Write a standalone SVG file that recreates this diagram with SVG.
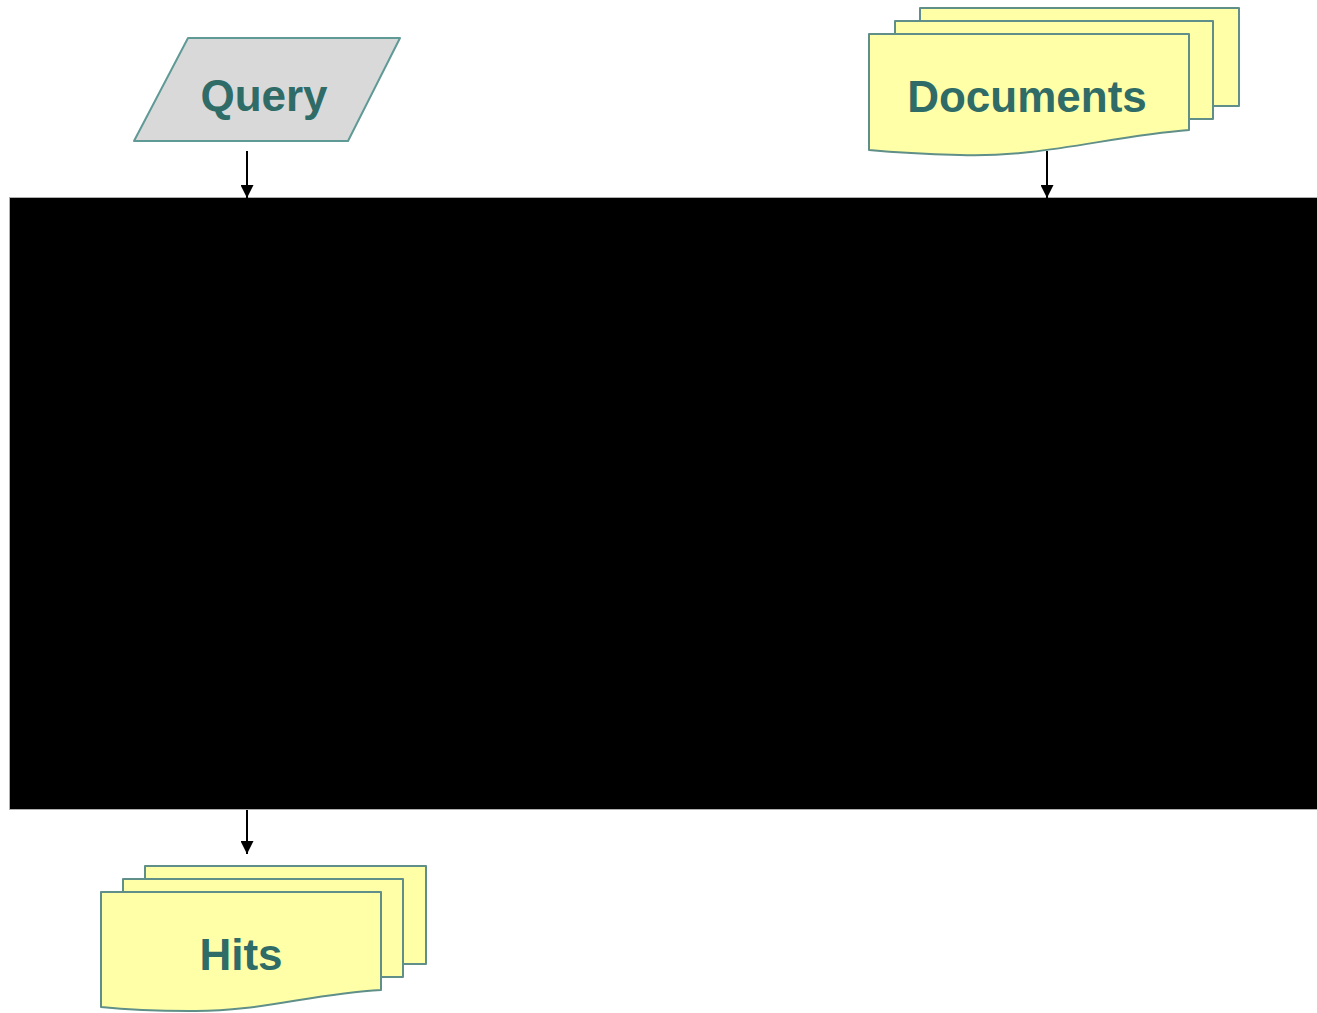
<svg xmlns="http://www.w3.org/2000/svg" width="1317" height="1013" viewBox="0 0 1317 1013">
  <defs>
    <style>
      .doc { fill: #ffffa8; stroke: #5f8f88; stroke-width: 2; stroke-linejoin: round; }
      .io { fill: #d9d9d9; stroke: #5f9a96; stroke-width: 2; stroke-linejoin: round; }
      .label { font-family: "Liberation Sans", Arial, sans-serif; font-weight: bold; font-size: 44px; fill: #2f6b67; text-anchor: middle; }
      .edge { stroke: #000; stroke-width: 2; fill: none; marker-end: url(#arrow); }
    </style>
    <marker id="arrow" viewBox="0 0 10 10" refX="10" refY="5" markerWidth="13" markerHeight="13" markerUnits="userSpaceOnUse" orient="auto">
      <path d="M0,0 L10,5 L0,10 z" fill="#000"/>
    </marker>
  </defs>

  <rect width="1317" height="1013" fill="#ffffff"/>

  <!-- masked processing block -->
  <g id="process">
    <rect x="9.5" y="197.5" width="1310" height="612" fill="#000" stroke="#b0b0b0" stroke-width="1"/>
  </g>

  <!-- input: query parallelogram -->
  <g id="query">
    <polygon class="io" points="188,38 400,38 348,141 134,141"/>
    <text class="label" x="264" y="111">Query</text>
  </g>

  <!-- input: stacked documents -->
  <g id="documents">
    <path class="doc" d="M920,8 H1239 V106 H920 Z"/>
    <path class="doc" d="M895,21 H1213 V119 H895 Z"/>
    <path class="doc" d="M869,34 H1189 V130 C1110,136 1040,158 960,155 C920,154 890,152 869,150 Z"/>
    <text class="label" x="1027" y="112">Documents</text>
  </g>

  <!-- output: stacked hits -->
  <g id="hits">
    <path class="doc" d="M145,866 H426 V964 H145 Z"/>
    <path class="doc" d="M123,879 H403 V977 H123 Z"/>
    <path class="doc" d="M101,892 H381 V990 C310,994 260,1012 190,1011 C150,1011 120,1009 101,1007 Z"/>
    <text class="label" x="241" y="970">Hits</text>
  </g>

  <!-- connectors -->
  <g id="connectors">
    <line class="edge" x1="247" y1="151" x2="247" y2="198"/>
    <line class="edge" x1="1047" y1="151" x2="1047" y2="198"/>
    <line class="edge" x1="247" y1="810" x2="247" y2="854"/>
  </g>
</svg>
